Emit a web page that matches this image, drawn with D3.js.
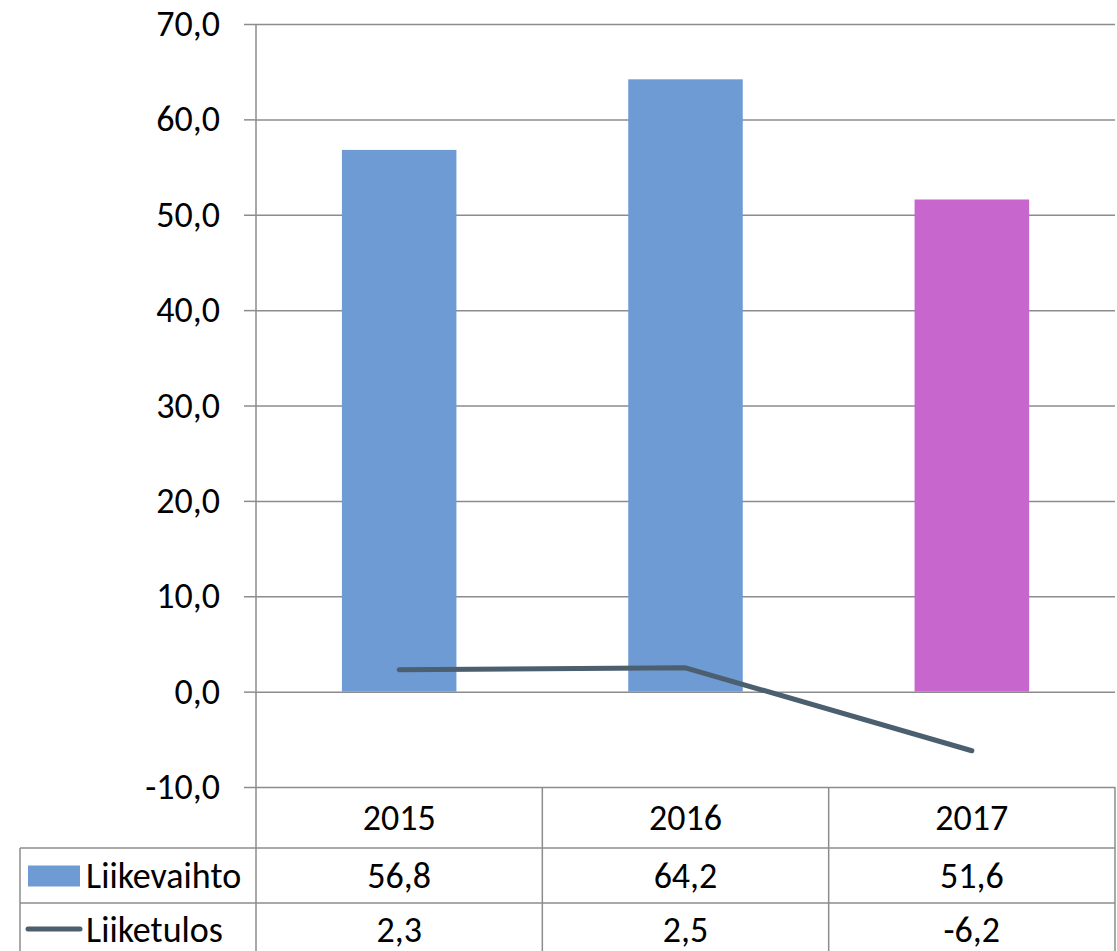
<!DOCTYPE html>
<meta charset="utf-8">
<style>
body { margin: 0; background: #fff; }
svg text { font-family: Carlito, Calibri, "Liberation Sans", Arial, sans-serif; font-size: 36px; fill: #000; }
</style>
<svg width="1117" height="951"></svg>
<script src="https://d3js.org/d3.v7.min.js"></script>
<script>
var years = ["2015", "2016", "2017"];
var liikevaihto = [56.8, 64.2, 51.6];
var liiketulos = [2.3, 2.5, -6.2];
var barColors = ["#6f9bd4", "#6f9bd4", "#c766cc"];
var yTicks = [-10, 0, 10, 20, 30, 40, 50, 60, 70];

var svg = d3.select("svg");
var plotL = 256, plotR = 1115, plotT = 24, plotB = 787;
var rowLines = [787, 848, 903];
var gridColor = "#8c8c8c";

var fi = d3.formatLocale({decimal: ",", thousands: " ", grouping: [3], currency: ["", "€"], minus: "-"});
var f1 = fi.format(".1f");

var y = d3.scaleLinear().domain([-10, 70]).range([plotB, plotT]);
var x = d3.scaleBand().domain(years).range([plotL, plotR]);
var bw = x.bandwidth() * 0.4;

// gridlines
svg.append("g")
  .attr("transform", "translate(" + plotL + ",0)")
  .call(d3.axisRight(y).tickValues(yTicks).tickSize(plotR - plotL).tickFormat(""))
  .call(function(g) {
    g.select(".domain").remove();
    g.selectAll("line").attr("stroke", gridColor).attr("stroke-width", 1.5);
  });

// bars
svg.selectAll("rect.bar").data(years).enter().append("rect")
  .attr("class", "bar")
  .attr("x", function(d) { return x(d) + x.bandwidth() / 2 - bw / 2; })
  .attr("width", bw)
  .attr("y", function(d, i) { return y(liikevaihto[i]); })
  .attr("height", function(d, i) { return y(0) - y(liikevaihto[i]); })
  .attr("fill", function(d, i) { return barColors[i]; });

// y axis
svg.append("g")
  .attr("transform", "translate(" + plotL + ",0)")
  .call(d3.axisLeft(y).tickValues(yTicks).tickSize(12).tickPadding(24).tickFormat(f1))
  .call(function(g) {
    g.select(".domain").remove();
    g.selectAll("line").attr("stroke", gridColor).attr("stroke-width", 1.5);
    g.selectAll("text").attr("font-size", null).attr("font-family", null);
  });

// line series
var line = d3.line()
  .x(function(d, i) { return x(years[i]) + x.bandwidth() / 2; })
  .y(function(d) { return y(d); });
svg.append("path")
  .datum(liiketulos)
  .attr("d", line)
  .attr("fill", "none")
  .attr("stroke", "#4b5f6e")
  .attr("stroke-width", 5)
  .attr("stroke-linecap", "round")
  .attr("stroke-linejoin", "round");

// data table
var t = svg.append("g").attr("stroke", gridColor).attr("stroke-width", 1.5);
t.append("line").attr("x1", plotL).attr("x2", plotL).attr("y1", plotT).attr("y2", 951);
t.append("line").attr("x1", 20).attr("x2", 20).attr("y1", rowLines[1]).attr("y2", 951);
years.forEach(function(d) {
  var xr = x(d) + x.bandwidth();
  t.append("line").attr("x1", xr).attr("x2", xr).attr("y1", rowLines[0]).attr("y2", 951);
});
rowLines.slice(1).forEach(function(r) {
  t.append("line").attr("x1", 20).attr("x2", plotR).attr("y1", r).attr("y2", r);
});

var rowMid = [(rowLines[0] + rowLines[1]) / 2, (rowLines[1] + rowLines[2]) / 2, (rowLines[2] + 951) / 2 + 2];
function cellText(vals, ym) {
  svg.append("g").selectAll("text").data(vals).enter().append("text")
    .attr("x", function(d, i) { return x(years[i]) + x.bandwidth() / 2; })
    .attr("y", ym)
    .attr("dy", "0.35em")
    .attr("text-anchor", "middle")
    .text(function(d) { return d; });
}
cellText(years, rowMid[0]);
cellText(liikevaihto.map(f1), rowMid[1]);
cellText(liiketulos.map(f1), rowMid[2]);

// legend keys
svg.append("rect").attr("x", 28).attr("y", rowMid[1] - 10).attr("width", 52).attr("height", 21).attr("fill", barColors[0]);
svg.append("text").attr("x", 86).attr("y", rowMid[1]).attr("dy", "0.35em").text("Liikevaihto");
svg.append("line").attr("x1", 28).attr("x2", 80).attr("y1", rowMid[2]).attr("y2", rowMid[2])
  .attr("stroke", "#4b5f6e").attr("stroke-width", 5).attr("stroke-linecap", "round");
svg.append("text").attr("x", 86).attr("y", rowMid[2]).attr("dy", "0.35em").text("Liiketulos");
</script>
